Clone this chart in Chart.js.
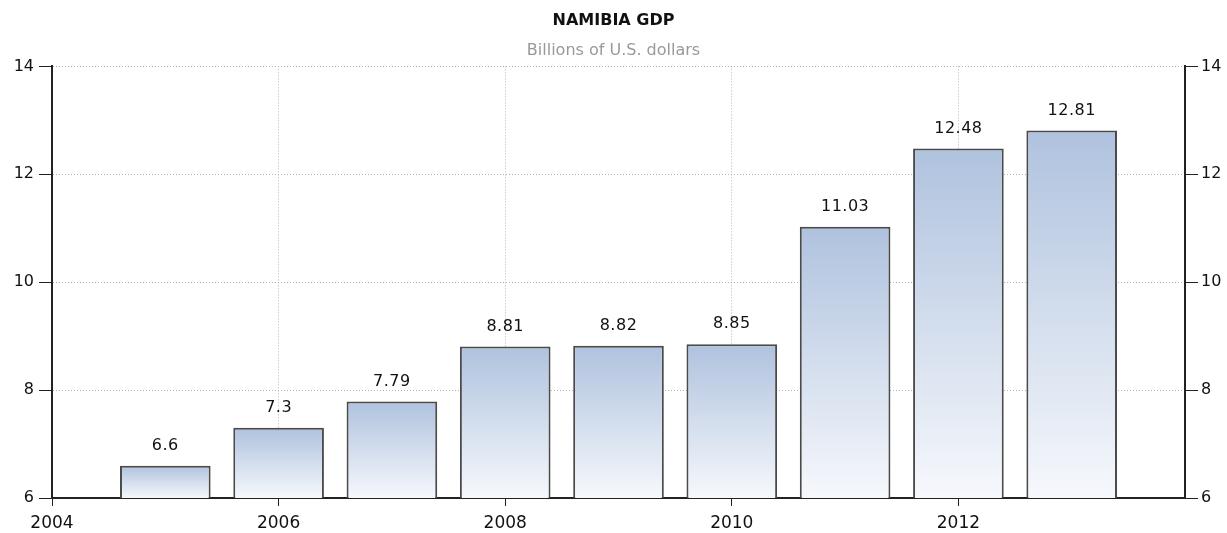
<!DOCTYPE html>
<html>
<head>
<meta charset="utf-8">
<title>Namibia GDP</title>
<script src="https://cdn.jsdelivr.net/npm/chart.js@4/dist/chart.umd.min.js"></script>
<style>
    html, body { margin: 0; padding: 0; background: #fff; }
    #wrap { width: 1227px; height: 533px; position: relative; }
</style>
</head>
<body>
<div id="wrap"><canvas id="myChart"></canvas></div>
<script>
// datos del grafico
var years = [2005, 2006, 2007, 2008, 2009, 2010, 2011, 2012, 2013];
var gdp = [6.6, 7.3, 7.79, 8.81, 8.82, 8.85, 11.03, 12.48, 12.81];
var gdpLabels = ['6.6', '7.3', '7.79', '8.81', '8.82', '8.85', '11.03', '12.48', '12.81'];
var yearTicks = [2004, 2006, 2008, 2010, 2012];
var valueTicks = [6, 8, 10, 12, 14];

var FONT = 'DejaVu Sans';

function barFill(c) {
    var chart = c.chart;
    if (!chart.chartArea || c.type !== 'data') {
        return '#b0c4de';
    }
    var y = chart.scales.y;
    var top = y.getPixelForValue(c.parsed.y);
    var bottom = y.getPixelForValue(valueTicks[0]);
    var g = chart.ctx.createLinearGradient(0, top, 0, bottom);
    g.addColorStop(0, '#afc2de');
    g.addColorStop(1, '#f6f8fc');
    return g;
}

// etiquetas de valor encima de cada barra
var valueLabels = {
    id: 'valueLabels',
    afterDatasetsDraw: function (chart) {
        var ctx = chart.ctx;
        var meta = chart.getDatasetMeta(0);
        ctx.save();
        ctx.font = '16px "' + FONT + '"';
        ctx.fillStyle = '#111';
        ctx.textAlign = 'center';
        ctx.textBaseline = 'middle';
        if ('letterSpacing' in ctx) ctx.letterSpacing = '0.5px';
        meta.data.forEach(function (bar, i) {
            ctx.fillText(gdpLabels[i], bar.x, bar.y - 20);
        });
        ctx.restore();
    }
};

var data = years.map(function (yr, i) { return { x: yr, y: gdp[i] }; });

var ctx = document.getElementById('myChart').getContext('2d');
var chart = new Chart(ctx, {
    type: 'bar',
    data: {
        datasets: [{
            data: data,
            backgroundColor: barFill,
            borderColor: '#4a4a4a',
            borderWidth: 2,
            borderSkipped: false,
            barPercentage: 0.8,
            categoryPercentage: 1
        }]
    },
    plugins: [valueLabels],
    options: {
        responsive: true,
        maintainAspectRatio: false,
        animation: false,
        events: [],
        layout: { padding: 0 },
        plugins: {
            legend: { display: false },
            tooltip: { enabled: false },
            title: {
                display: true,
                text: 'NAMIBIA GDP',
                color: '#111',
                font: { family: FONT, size: 16, weight: 'bold' },
                padding: { top: 11, bottom: 0 }
            },
            subtitle: {
                display: true,
                text: 'Billions of U.S. dollars',
                color: '#999',
                font: { family: FONT, size: 16 },
                padding: { top: 11, bottom: 6 }
            }
        },
        scales: {
            x: {
                type: 'linear',
                min: 2004,
                max: 2014,
                offset: false,
                afterBuildTicks: function (scale) {
                    scale.ticks = yearTicks.map(function (v) { return { value: v }; });
                },
                afterFit: function (scale) { scale.height = 35; },
                ticks: {
                    color: '#111',
                    font: { family: FONT, size: 17 },
                    padding: 7,
                    maxRotation: 0,
                    callback: function (v) { return String(v); }
                },
                grid: {
                    offset: false,
                    color: '#b4b4b4',
                    lineWidth: 1,
                    tickColor: '#222',
                    tickLength: 8,
                    tickBorderDash: []
                },
                border: { display: true, color: '#222', width: 2, dash: [1, 2] }
            },
            y: {
                position: 'left',
                min: 6,
                max: 14,
                afterBuildTicks: function (scale) {
                    scale.ticks = valueTicks.map(function (v) { return { value: v }; });
                },
                afterFit: function (scale) { scale.width = 52; },
                ticks: {
                    color: '#111',
                    font: { family: FONT, size: 16 },
                    padding: 5
                },
                grid: {
                    color: '#b4b4b4',
                    lineWidth: 1,
                    tickColor: '#222',
                    tickLength: 13,
                    tickBorderDash: []
                },
                border: { display: true, color: '#222', width: 2, dash: [1, 2] }
            },
            y2: {
                position: 'right',
                min: 6,
                max: 14,
                afterBuildTicks: function (scale) {
                    scale.ticks = valueTicks.map(function (v) { return { value: v }; });
                },
                afterFit: function (scale) { scale.width = 42; },
                ticks: {
                    color: '#111',
                    font: { family: FONT, size: 16 },
                    padding: 3
                },
                grid: {
                    drawOnChartArea: false,
                    tickColor: '#222',
                    tickLength: 13
                },
                border: { display: true, color: '#222', width: 2 }
            }
        }
    }
});
</script>
</body>
</html>
